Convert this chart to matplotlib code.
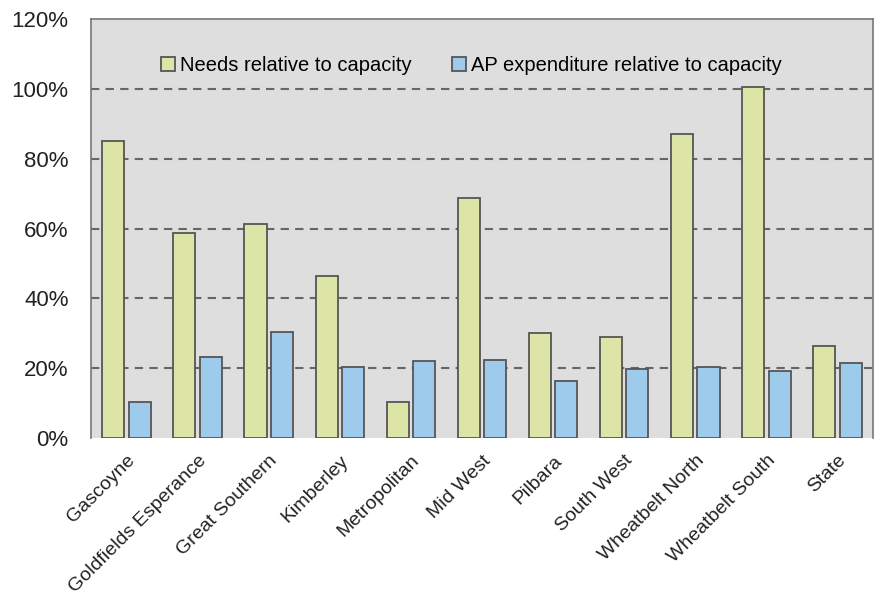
import numpy as np
import matplotlib.pyplot as plt
from matplotlib.ticker import PercentFormatter

# Needs and AP expenditure, both relative to capacity, by region (%)
regions = [
    "Gascoyne", "Goldfields Esperance", "Great Southern", "Kimberley",
    "Metropolitan", "Mid West", "Pilbara", "South West",
    "Wheatbelt North", "Wheatbelt South", "State",
]
needs = [85.1, 58.7, 61.3, 46.4, 10.3, 68.8, 30.1, 28.9, 87.1, 100.6, 26.4]
ap_expenditure = [10.3, 23.2, 30.4, 20.3, 22.0, 22.3, 16.3, 19.7, 20.3, 19.2, 21.5]

plt.rcParams["font.family"] = ["Liberation Sans", "DejaVu Sans"]

fig = plt.figure(figsize=(8.74, 6.01), dpi=100)
ax = fig.add_axes([0.104, 0.271, 0.895, 0.697])

x = np.arange(len(regions))
width = 0.31

ax.bar(x - 0.185, needs, width, color="#dce5a6", edgecolor="#555555",
       linewidth=1.3, label="Needs relative to capacity", zorder=3)
ax.bar(x + 0.185, ap_expenditure, width, color="#9ecbec", edgecolor="#555555",
       linewidth=1.3, label="AP expenditure relative to capacity", zorder=3)

ax.set_facecolor("#dedede")
ax.set_xlim(-0.5, len(regions) - 0.5)
ax.set_ylim(0, 120)
ax.set_yticks(range(0, 121, 20))
ax.yaxis.set_major_formatter(PercentFormatter(decimals=0))

for y in range(20, 101, 20):
    ax.axhline(y, color="#666666", linestyle=(0, (4, 3)), linewidth=1.5, zorder=2)

ax.set_xticks(x)
ax.set_xticklabels(regions, rotation=45, ha="right", rotation_mode="anchor")
ax.tick_params(axis="both", length=0, colors="#222222")
ax.tick_params(axis="y", labelsize=16, pad=16)
ax.tick_params(axis="x", labelsize=14, pad=10)

for side in ["left", "top", "right"]:
    ax.spines[side].set_color("#777777")
    ax.spines[side].set_linewidth(1.2)
ax.spines["bottom"].set_visible(False)

ax.legend(loc="upper center", bbox_to_anchor=(0.486, 0.955), ncol=2, frameon=False,
          fontsize=14.5, handlelength=0.7, handleheight=0.7, handletextpad=0.25,
          columnspacing=2.0)

fig.savefig("out.png", dpi=100)
